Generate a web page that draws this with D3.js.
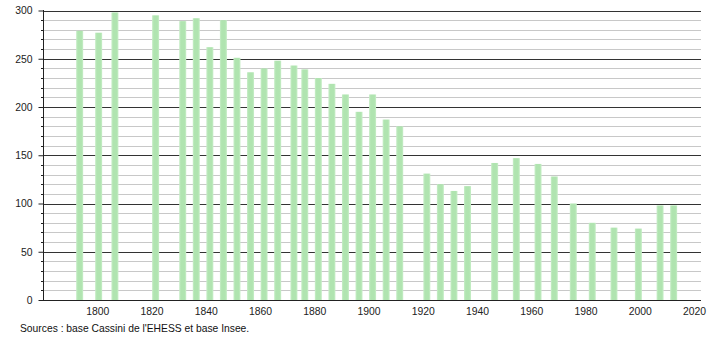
<!DOCTYPE html>
<html>
<head>
<meta charset="utf-8">
<script src="https://cdn.jsdelivr.net/npm/d3@7"></script>
<style>
  html, body { margin: 0; padding: 0; background: #fff; }
  svg { display: block; font-family: "Liberation Sans", Arial, sans-serif; }
</style>
</head>
<body>
<svg id="chart" width="710" height="340"></svg>
<script>
const years = [1793, 1800, 1806, 1821, 1831, 1836, 1841, 1846, 1851, 1856, 1861, 1866, 1872, 1876, 1881, 1886, 1891, 1896, 1901, 1906, 1911, 1921, 1926, 1931, 1936, 1946, 1954, 1962, 1968, 1975, 1982, 1990, 1999, 2007, 2012];
const population = [279, 277, 298, 295, 289, 292, 262, 290, 251, 236, 240, 248, 243, 239, 230, 224, 213, 195, 213, 187, 180, 131, 120, 113, 118, 142, 147, 141, 128, 100, 80, 75, 74, 98, 98];
const yTicks = [0, 50, 100, 150, 200, 250, 300];
const xTicks = [1800, 1820, 1840, 1860, 1880, 1900, 1920, 1940, 1960, 1980, 2000, 2020];
const sourceText = "Sources : base Cassini de l'EHESS et base Insee.";

const svg = d3.select("#chart");
const x = d3.scaleLinear().domain([1780, 2022.6]).range([43, 701]);
const y = d3.scaleLinear().domain([0, 300]).range([300, 10.5]);

// minor gridlines every 10
const minor = d3.range(10, 301, 10).filter(v => v % 50 !== 0);
svg.append("g").selectAll("line").data(minor).join("line")
  .attr("x1", 43).attr("x2", 701)
  .attr("y1", d => Math.round(y(d)) + 0.5).attr("y2", d => Math.round(y(d)) + 0.5)
  .attr("stroke", "#c8c8c8").attr("stroke-width", 1);
// major gridlines
svg.append("g").selectAll("line").data(yTicks.filter(v => v > 0)).join("line")
  .attr("x1", 43).attr("x2", 701)
  .attr("y1", d => Math.round(y(d)) + 0.5).attr("y2", d => Math.round(y(d)) + 0.5)
  .attr("stroke", "#333").attr("stroke-width", 1);

// bars
const defs = svg.append("defs");
const grad = defs.append("linearGradient").attr("id", "barGrad").attr("x1", "0").attr("x2", "1").attr("y1", "0").attr("y2", "0");
grad.append("stop").attr("offset", "0%").attr("stop-color", "#c8eec8");
grad.append("stop").attr("offset", "25%").attr("stop-color", "#b0e4b0");
grad.append("stop").attr("offset", "75%").attr("stop-color", "#b0e4b0");
grad.append("stop").attr("offset", "100%").attr("stop-color", "#c8eec8");

const barW = 7;
svg.append("g").selectAll("rect").data(years).join("rect")
  .attr("x", (d) => x(d) + 1.4 - barW / 2)
  .attr("width", barW)
  .attr("y", (d, i) => y(population[i]))
  .attr("height", (d, i) => y(0) - y(population[i]))
  .attr("fill", "url(#barGrad)");

// y axis
const yAxis = d3.axisLeft(y).tickValues(yTicks).tickSize(5).tickPadding(6).tickFormat(d3.format("d"));
const gy = svg.append("g").attr("transform", "translate(43.5,0)").call(yAxis);
gy.select(".domain").remove();
gy.selectAll(".tick line").attr("stroke", "#222");
gy.selectAll("text").attr("font-size", 10.4).attr("fill", "#222").attr("font-family", "Liberation Sans, Arial, sans-serif");
svg.append("line").attr("x1", 43.5).attr("x2", 43.5).attr("y1", 10).attr("y2", 300.5).attr("stroke", "#222");
// minor y ticks
svg.append("g").selectAll("line").data(minor).join("line")
  .attr("x1", 41).attr("x2", 43.5)
  .attr("y1", d => Math.round(y(d)) + 0.5).attr("y2", d => Math.round(y(d)) + 0.5)
  .attr("stroke", "#222");

// x axis
const xAxis = d3.axisBottom(x).tickValues(xTicks).tickSize(0).tickPadding(7).tickFormat(d3.format("d"));
const gx = svg.append("g").attr("transform", "translate(0,300.5)").call(xAxis);
gx.select(".domain").remove();
gx.selectAll("text").attr("font-size", 10.4).attr("fill", "#222").attr("font-family", "Liberation Sans, Arial, sans-serif");
svg.append("line").attr("x1", 43).attr("x2", 701).attr("y1", 300.5).attr("y2", 300.5).attr("stroke", "#222");

svg.append("text").attr("x", 20).attr("y", 332).attr("font-size", 10.3).attr("fill", "#111")
  .text(sourceText);
</script>
</body>
</html>
